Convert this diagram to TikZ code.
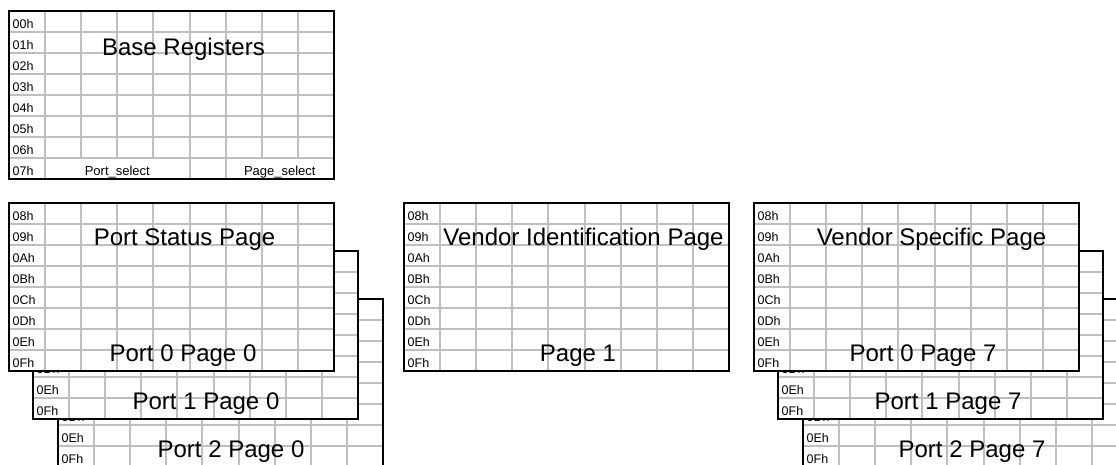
\documentclass[tikz,border=0pt]{standalone}
\usepackage{fontspec}
\setmainfont{Liberation Sans}

\definecolor{gridgray}{RGB}{191,191,191}
\tikzset{
  gridline/.style={draw=gridgray, line width=2pt},
  frame/.style={draw=black, line width=2.2pt},
  rowlbl/.style={anchor=base west, inner sep=0pt, font=\fontsize{12.5}{14}\selectfont},
  fieldtxt/.style={anchor=base, inner sep=0pt, font=\fontsize{13}{15}\selectfont},
  bigtxt/.style={anchor=base, inner sep=0pt, font=\fontsize{24}{28}\selectfont},
}

% one page of registers 08h..0Fh: \regpage{left}{top}{name}
\newcommand{\regpage}[3]{%
  \fill[white] (#1,#2) rectangle ++(325,168);
  \foreach \c in {1,...,8} \draw[gridline] ({round(#1+36.1*\c)},#2) -- ++(0,168);
  \foreach \r in {1,...,7} \draw[gridline] (#1,{#2+21*\r}) -- ++(325,0);
  \foreach \lbl [count=\r] in {08h,09h,0Ah,0Bh,0Ch,0Dh,0Eh,0Fh}
    \node[rowlbl] (#3-\r) at ({#1+3.5},{#2+21*\r-4}) {\lbl};
  \draw[frame] (#1,#2) rectangle ++(325,168);
}

\begin{document}
\begin{tikzpicture}[x=1pt,y=-1pt]
  \clip (0,0) rectangle (1116,464);
  \fill[white] (0,0) rectangle (1116,464);

  % base registers
  \foreach \c in {1,...,8} \draw[gridline] ({round(9+36.1*\c)},11) -- ({round(9+36.1*\c)},158);
  \foreach \c in {1,5,6} \draw[gridline] ({round(9+36.1*\c)},158) -- ({round(9+36.1*\c)},179);
  \foreach \r in {1,...,7} \draw[gridline] (9,{11+21*\r}) -- ++(325,0);
  \foreach \lbl [count=\r] in {00h,01h,02h,03h,04h,05h,06h,07h}
    \node[rowlbl] (base-\r) at (12.5,{11+21*\r-4}) {\lbl};
  \draw[frame] (9,11) rectangle ++(325,168);
  \node[bigtxt] (basettl) at (183.5,55) {Base Registers};
  \node[fieldtxt] (portsel) at (117.3,175) {Port\_select};
  \node[fieldtxt] (pagesel) at (279.8,175) {Page\_select};

  % port status pages
  \regpage{58}{299}{p2pg0}
  \node[bigtxt] (p2pg0ttl) at (231,457) {Port 2 Page 0};
  \regpage{33}{251}{p1pg0}
  \node[bigtxt] (p1pg0ttl) at (206,409) {Port 1 Page 0};
  \regpage{9}{203}{p0pg0}
  \node[bigtxt] (p0pg0ttl) at (183,361) {Port 0 Page 0};
  \node[bigtxt] (statttl) at (184.5,245) {Port Status Page};

  % vendor identification page
  \regpage{404}{203}{pg1}
  \node[bigtxt] (vidttl) at (583.5,245) {Vendor Identification Page};
  \node[bigtxt] (pg1ttl) at (578,361) {Page 1};

  % vendor specific pages
  \regpage{803}{299}{p2pg7}
  \node[bigtxt] (p2pg7ttl) at (972,457) {Port 2 Page 7};
  \regpage{778}{251}{p1pg7}
  \node[bigtxt] (p1pg7ttl) at (948,409) {Port 1 Page 7};
  \regpage{754}{203}{p0pg7}
  \node[bigtxt] (p0pg7ttl) at (923,361) {Port 0 Page 7};
  \node[bigtxt] (vsttl) at (931.5,245) {Vendor Specific Page};
\end{tikzpicture}
\end{document}
